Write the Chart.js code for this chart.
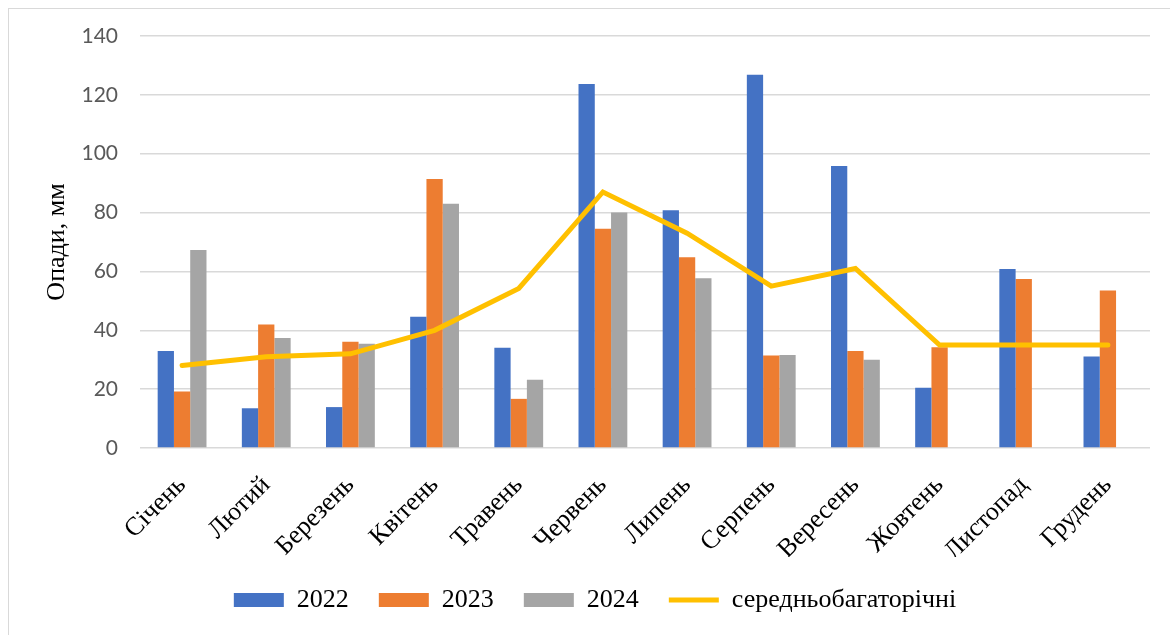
<!DOCTYPE html>
<html>
<head>
<meta charset="utf-8">
<script src="https://cdn.jsdelivr.net/npm/chart.js@4"></script>
<style>
  html, body { margin: 0; padding: 0; background: #fff; }
  .frame { position: absolute; left: 8px; top: 8px; width: 1170px; height: 640px; border: 1px solid #d9d9d9; }
  .wrap { position: absolute; left: 0; top: 0; width: 1170px; height: 635px; }
</style>
</head>
<body>
<div class="frame"></div>
<div class="wrap"><canvas id="chart"></canvas></div>
<script>
// місяці
const months = ['Січень', 'Лютий', 'Березень', 'Квітень', 'Травень', 'Червень',
  'Липень', 'Серпень', 'Вересень', 'Жовтень', 'Листопад', 'Грудень'];

// опади по роках, мм
const rain2022 = [33, 13.5, 13.9, 44.6, 34.1, 123.7, 80.8, 126.8, 95.8, 20.5, 60.8, 31.1];
const rain2023 = [19.2, 42, 36.1, 91.4, 16.7, 74.5, 64.8, 31.4, 33, 34.2, 57.4, 53.5];
const rain2024 = [67.3, 37.4, 35.4, 83, 23.2, 80, 57.7, 31.6, 30, null, null, null];
const rainNorm = [28, 31, 32, 40, 54.2, 87, 73, 55, 61, 35, 35, 35];

const yTicks = [0, 20, 40, 60, 80, 100, 120, 140];

const serif = '"Liberation Serif", "Times New Roman", serif';

const barSet = (label, data, color) => ({
  type: 'bar',
  label: label,
  data: data,
  backgroundColor: color,
  borderWidth: 0,
  order: 1,
  categoryPercentage: 0.58,
  barPercentage: 1,
});

new Chart(document.getElementById('chart').getContext('2d'), {
  data: {
    labels: months,
    datasets: [
      barSet('2022', rain2022, '#4472C4'),
      barSet('2023', rain2023, '#ED7D31'),
      barSet('2024', rain2024, '#A5A5A5'),
      {
        type: 'line',
        label: 'середньобагаторічні',
        data: rainNorm,
        borderColor: '#FFC000',
        backgroundColor: '#FFC000',
        borderWidth: 5,
        borderCapStyle: 'round',
        pointRadius: 0,
        tension: 0,
        order: 0,
      },
    ],
  },
  options: {
    responsive: true,
    maintainAspectRatio: false,
    animation: false,
    layout: { padding: { left: 40, top: 36, right: 20, bottom: 12 } },
    plugins: {
      tooltip: { enabled: false },
      legend: {
        position: 'bottom',
        labels: {
          usePointStyle: true,
          pointStyleWidth: 50,
          boxHeight: 14,
          padding: 30,
          color: '#000',
          font: { family: serif, size: 26 },
          sort: (a, b) => a.datasetIndex - b.datasetIndex,
          generateLabels: (chart) => {
            const items = Chart.defaults.plugins.legend.labels.generateLabels(chart);
            return items.map((it) => {
              const ds = chart.data.datasets[it.datasetIndex];
              if (ds.type === 'line') {
                it.pointStyle = 'line';
                it.lineWidth = 5;
                it.strokeStyle = '#FFC000';
              } else {
                it.pointStyle = 'rect';
                it.lineWidth = 0;
              }
              return it;
            });
          },
        },
      },
    },
    scales: {
      x: {
        grid: { display: false },
        border: { display: false },
        afterFit: (scale) => { scale.height = 109; },
        ticks: {
          maxRotation: 45,
          minRotation: 45,
          padding: 14,
          color: '#000',
          font: { family: serif, size: 26 },
        },
      },
      y: {
        min: 0,
        max: 140,
        afterFit: (scale) => { scale.width = 100; },
        afterBuildTicks: (scale) => { scale.ticks = yTicks.map((v) => ({ value: v })); },
        grid: { color: '#d9d9d9', lineWidth: 1.5, drawTicks: false },
        border: { display: false },
        ticks: {
          padding: 22,
          color: '#595959',
          font: { family: 'Lato, "Open Sans", sans-serif', size: 21 },
        },
        title: {
          display: true,
          text: 'Опади, мм',
          color: '#000',
          padding: { top: 2, bottom: 0 },
          font: { family: serif, size: 26 },
        },
      },
    },
  },
});
</script>
</body>
</html>
